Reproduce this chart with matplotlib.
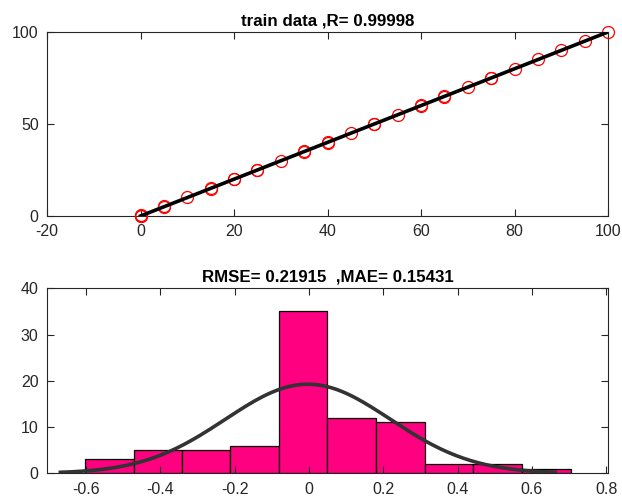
import numpy as np
import matplotlib
matplotlib.use("Agg")
import matplotlib.pyplot as plt

plt.rcParams['font.family'] = ['Liberation Sans', 'DejaVu Sans']
plt.rcParams['axes.unicode_minus'] = False

# train data: target vs. prediction
target = [0, 0, 0, 5, 5, 10, 15, 15, 20, 20, 25, 25, 30, 35, 35, 40, 40, 45, 50, 50,
          55, 60, 60, 65, 65, 70, 75, 75, 80, 85, 90, 95, 100]
predicted = [0.1, -0.2, 0.3, 5.2, 4.9, 10.1, 15.2, 14.8, 20.1, 19.9, 25.2, 24.8, 30.1,
             35.3, 34.7, 40.2, 39.8, 45.1, 50.1, 49.9, 55.0, 60.2, 59.8, 65.2, 64.9,
             70.1, 75.2, 74.9, 80.0, 85.1, 90.2, 95.1, 100.0]
fit_x = [0, 100]
fit_y = [0, 100]

# error histogram
bin_edges = [-0.603, -0.472, -0.342, -0.212, -0.081, 0.049, 0.180, 0.311, 0.442, 0.573, 0.704]
counts = [3, 5, 5, 6, 35, 12, 11, 2, 2, 1]
err_mu = -0.003
err_sigma = 0.222

txt_col = (0.15, 0.15, 0.15)

def style(ax):
    ax.tick_params(direction='in', top=True, right=True, length=5, width=0.8,
                   colors=txt_col, labelsize=11.5)
    ax.tick_params(axis='x', pad=6)
    ax.tick_params(axis='y', pad=6)
    for sp in ax.spines.values():
        sp.set_color(txt_col)
        sp.set_linewidth(0.8)

fig = plt.figure(figsize=(6.22, 5.01), dpi=100)
ax1 = fig.add_axes([0.0756, 0.5689, 0.9020, 0.3673])
ax2 = fig.add_axes([0.0756, 0.0553, 0.9020, 0.3693])

ax1.plot(target, predicted, 'o', mfc='none', mec='red', ms=8.6, mew=0.9, clip_on=False, zorder=3)
ax1.plot(fit_x, fit_y, '-', color='k', lw=2.6, zorder=4)
ax1.set_xlim(-20, 100)
ax1.set_ylim(0, 100)
ax1.set_xticks([-20, 0, 20, 40, 60, 80, 100])
ax1.set_yticks([0, 50, 100])
ax1.set_title('train data ,R= 0.99998', fontsize=12.2, fontweight='bold', pad=5)
style(ax1)

widths = np.diff(bin_edges)
ax2.bar(bin_edges[:-1], counts, width=widths, align='edge',
        color='#ff0080', edgecolor='k', linewidth=0.9)
n_total = sum(counts)
bw = np.mean(widths)
xs = np.linspace(err_mu - 3 * err_sigma, err_mu + 3 * err_sigma, 200)
pdf = n_total * bw / (err_sigma * np.sqrt(2 * np.pi)) * np.exp(-0.5 * ((xs - err_mu) / err_sigma) ** 2)
ax2.plot(xs, pdf, color=(0.2, 0.2, 0.2), lw=2.6)
ax2.set_xlim(-0.705, 0.805)
ax2.set_ylim(0, 40)
ticks = [-0.6, -0.4, -0.2, 0, 0.2, 0.4, 0.6, 0.8]
ax2.set_xticks(ticks)
ax2.set_xticklabels(['-0.6', '-0.4', '-0.2', '0', '0.2', '0.4', '0.6', '0.8'])
ax2.set_yticks([0, 10, 20, 30, 40])
ax2.set_title('RMSE= 0.21915  ,MAE= 0.15431', fontsize=12.2, fontweight='bold', pad=5)
style(ax2)

fig.savefig('out.png', dpi=100)
